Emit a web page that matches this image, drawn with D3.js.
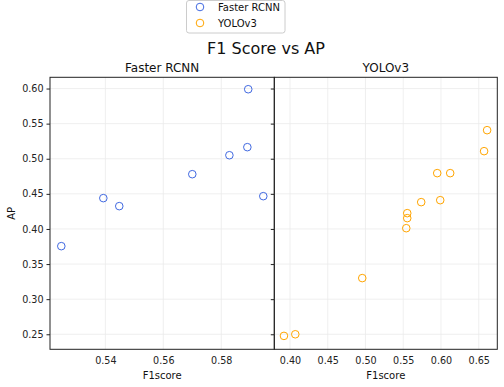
<!DOCTYPE html>
<html>
<head>
<meta charset="utf-8">
<script src="https://cdn.jsdelivr.net/npm/d3@7"></script>
<style>
  html, body { margin: 0; padding: 0; background: #fff; }
  svg { display: block; font-family: "DejaVu Sans", sans-serif; }
</style>
</head>
<body>
<div id="chart"></div>
<script>
// data
const rcnnF1 = [0.5248, 0.5393, 0.5448, 0.5700, 0.5828, 0.5890, 0.5893, 0.5945]
const rcnnAP = [0.3755, 0.4439, 0.4325, 0.4780, 0.5050, 0.5165, 0.5990, 0.4467]
const yoloF1 = [0.3920, 0.4070, 0.4957, 0.5540, 0.5553, 0.5553, 0.5738, 0.5990, 0.5950, 0.6122, 0.6571, 0.6611]
const yoloAP = [0.2477, 0.2500, 0.3300, 0.4011, 0.4154, 0.4225, 0.4382, 0.4410, 0.4795, 0.4795, 0.5108, 0.5407]
const yTicks = [0.25, 0.30, 0.35, 0.40, 0.45, 0.50, 0.55, 0.60]
const rcnnTicks = [0.54, 0.56, 0.58]
const yoloTicks = [0.40, 0.45, 0.50, 0.55, 0.60, 0.65]
const seriesNames = ['Faster RCNN', 'YOLOv3']
const colors = ['#4169e1', '#ffa500']

const W = 504, H = 387
const TOP = 77.3, BOTTOM = 349.3

const svg = d3.select('#chart').append('svg')
  .attr('width', W).attr('height', H)

const y = d3.scaleLinear().domain([0.2286, 0.616]).range([BOTTOM, TOP])

const panels = [
  { name: seriesNames[0], f1: rcnnF1, ap: rcnnAP, ticks: rcnnTicks, color: colors[0],
    x0: 50, x1: 274.3, domain: [0.5209, 0.5983], yLabels: true },
  { name: seriesNames[1], f1: yoloF1, ap: yoloAP, ticks: yoloTicks, color: colors[1],
    x0: 274.3, x1: 497.3, domain: [0.3792, 0.6746], yLabels: false },
]

panels.forEach(p => {
  const x = d3.scaleLinear().domain(p.domain).range([p.x0, p.x1])
  const g = svg.append('g')

  // ── grid ─────────────────────────────────────────────────────
  g.append('g').selectAll('line').data(p.ticks).join('line')
    .attr('x1', d => x(d)).attr('x2', d => x(d))
    .attr('y1', TOP).attr('y2', BOTTOM)
    .attr('stroke', '#ebebeb').attr('stroke-width', 0.8)
  g.append('g').selectAll('line').data(yTicks).join('line')
    .attr('x1', p.x0).attr('x2', p.x1)
    .attr('y1', d => y(d)).attr('y2', d => y(d))
    .attr('stroke', '#ebebeb').attr('stroke-width', 0.8)

  // ── axes ─────────────────────────────────────────────────────
  const xAxis = g.append('g').attr('transform', `translate(0,${BOTTOM})`)
    .call(d3.axisBottom(x).tickValues(p.ticks).tickSize(0).tickPadding(8).tickFormat(d3.format('.2f')))
  xAxis.select('.domain').remove()
  xAxis.selectAll('text').attr('font-size', 9.6).attr('fill', '#222').attr('font-family', 'DejaVu Sans')

  const yAxis = g.append('g').attr('transform', `translate(${p.x0},0)`)
    .call(d3.axisLeft(y).tickValues(yTicks).tickSize(3.5).tickPadding(3)
      .tickFormat(p.yLabels ? d3.format('.2f') : () => ''))
  yAxis.select('.domain').remove()
  yAxis.selectAll('line').attr('stroke', '#222')
  yAxis.selectAll('text').attr('font-size', 9.6).attr('fill', '#222').attr('font-family', 'DejaVu Sans')

  // ── frame ────────────────────────────────────────────────────
  g.append('rect')
    .attr('x', p.x0).attr('y', TOP).attr('width', p.x1 - p.x0).attr('height', BOTTOM - TOP)
    .attr('fill', 'none').attr('stroke', '#222').attr('stroke-width', 1)

  // ── points ───────────────────────────────────────────────────
  g.append('g').selectAll('circle').data(p.f1.map((f, i) => [f, p.ap[i]])).join('circle')
    .attr('cx', d => x(d[0])).attr('cy', d => y(d[1]))
    .attr('r', 3.8).attr('fill', 'none')
    .attr('stroke', p.color).attr('stroke-width', 1)

  // ── labels ───────────────────────────────────────────────────
  g.append('text')
    .attr('x', (p.x0 + p.x1) / 2).attr('y', 72)
    .attr('text-anchor', 'middle').attr('font-size', 12).attr('fill', '#111')
    .text(p.name)
  g.append('text')
    .attr('x', (p.x0 + p.x1) / 2).attr('y', 379)
    .attr('text-anchor', 'middle').attr('font-size', 10).attr('fill', '#111')
    .text('F1score')
})

svg.append('text')
  .attr('transform', `translate(15,${(TOP + BOTTOM) / 2}) rotate(-90)`)
  .attr('text-anchor', 'middle').attr('font-size', 10).attr('fill', '#111')
  .text('AP')

svg.append('text')
  .attr('x', 266).attr('y', 54)
  .attr('text-anchor', 'middle').attr('font-size', 16).attr('fill', '#111')
  .text('F1 Score vs AP')

// ── legend ─────────────────────────────────────────────────────
const legend = svg.append('g')
legend.append('rect')
  .attr('x', 186.5).attr('y', 0.5).attr('width', 98.5).attr('height', 32.5)
  .attr('rx', 2.5).attr('fill', '#fff').attr('stroke', '#cccccc')
const items = legend.selectAll('g.item').data(seriesNames).join('g').attr('class', 'item')
  .attr('transform', (d, i) => `translate(0,${7 + i * 16})`)
items.append('circle')
  .attr('cx', 200).attr('cy', 0).attr('r', 3.8)
  .attr('fill', 'none').attr('stroke', (d, i) => colors[i]).attr('stroke-width', 1)
items.append('text')
  .attr('x', 218).attr('y', 3.6)
  .attr('font-size', 10).attr('fill', '#111')
  .text(d => d)
</script>
</body>
</html>
